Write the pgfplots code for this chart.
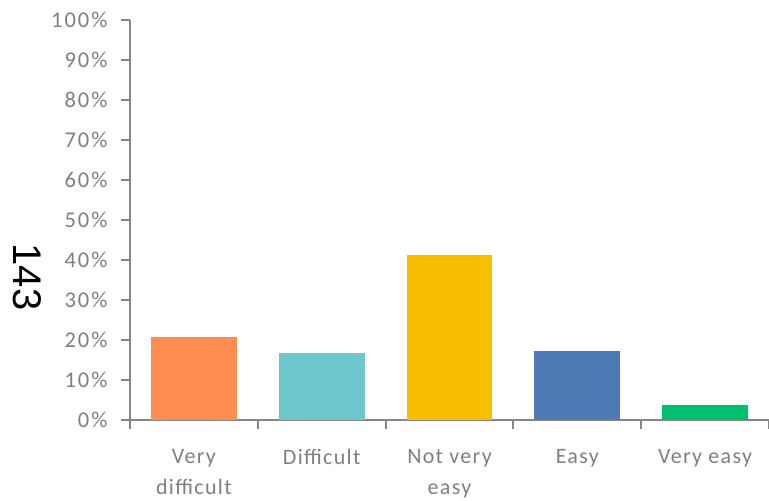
\documentclass[border=0pt]{standalone}
\usepackage{pgfplots}
\pgfplotsset{compat=1.18}
\usepackage{fontspec}
\setmainfont{Carlito}
\newfontfamily\ylblfont[LetterSpace=9]{Carlito}
\newfontfamily\xlblfont[LetterSpace=6]{Carlito}
\newfontfamily\arialfont{Liberation Sans}
\definecolor{axgray}{HTML}{868686}
\definecolor{lblgray}{HTML}{808080}
\definecolor{c1}{HTML}{FF8C50}
\definecolor{c2}{HTML}{6CC8CC}
\definecolor{c3}{HTML}{F8BE00}
\definecolor{c4}{HTML}{4E7BB5}
\definecolor{c5}{HTML}{00BF6F}
\begin{document}
\begin{tikzpicture}
\useasboundingbox (-130pt,-81pt) rectangle (639pt,420pt);
\begin{axis}[
  at={(0,0)}, anchor=south west,
  scale only axis, width=639pt, height=400pt,
  xmin=-0.5, xmax=4.5, ymin=0, ymax=100,
  axis lines*=left,
  axis line style={axgray, line width=2pt},
  tick align=outside,
  major tick length=9pt,
  tick style={axgray, line width=2pt},
  ytick={0,10,...,100},
  yticklabel={\pgfmathprintnumber{\tick}\%},
  /pgf/number format/assume math mode=true,
  yticklabel style={font=\ylblfont\fontsize{22.5}{25}\selectfont, color=lblgray, xshift=-10pt},
  xtick={-0.5,0.5,1.5,2.5,3.5,4.5},
  xticklabels={},
  extra x ticks={0,1,2,3,4},
  extra x tick labels={{Very\\difficult},Difficult,{Not very\\easy},Easy,Very easy},
  extra x tick style={major tick length=0pt, tick label style={font=\xlblfont\fontsize{22}{31}\selectfont, color=lblgray, align=center, yshift=-26pt}},
  ylabel={\arialfont\fontsize{40}{44}\selectfont 143},
  ylabel style={at={(axis description cs:-0.1612,0.3575)}, anchor=center, rotate=180, black},
  ybar, bar width=0.67, bar shift=0pt,
]
\addplot[fill=c1, draw=none] coordinates {(0,20.8)};
\addplot[fill=c2, draw=none] coordinates {(1,16.8)};
\addplot[fill=c3, draw=none] coordinates {(2,41.3)};
\addplot[fill=c4, draw=none] coordinates {(3,17.2)};
\addplot[fill=c5, draw=none] coordinates {(4,3.8)};
\end{axis}
\end{tikzpicture}
\end{document}
